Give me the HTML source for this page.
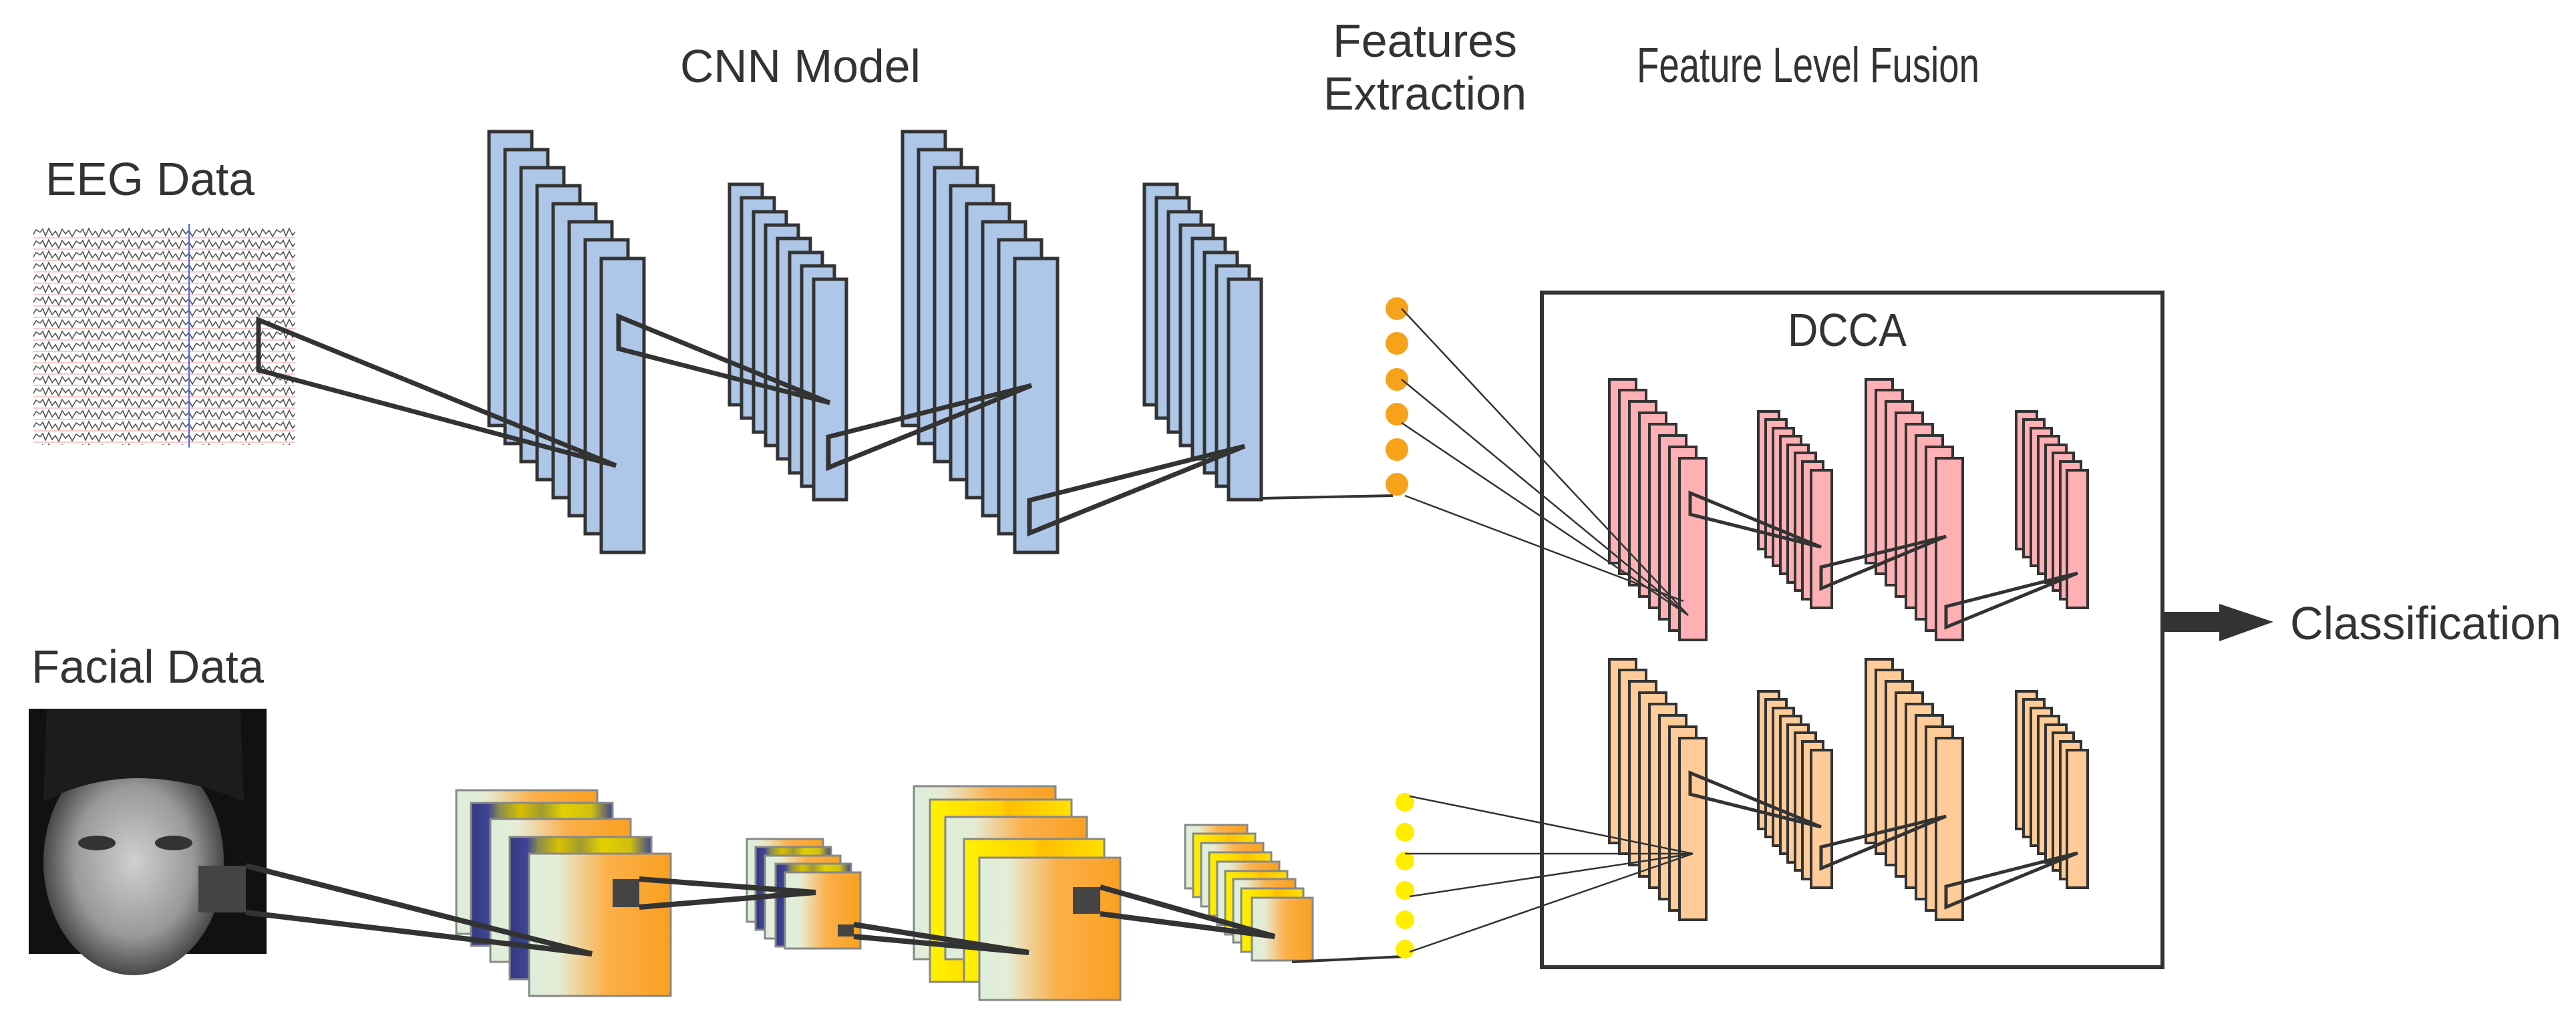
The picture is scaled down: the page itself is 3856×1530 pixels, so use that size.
<!DOCTYPE html>
<html><head><meta charset="utf-8"><style>html,body{margin:0;padding:0;background:#fff}svg{display:block}</style></head>
<body>
<svg width="3856" height="1530" viewBox="0 0 3856 1530" xmlns="http://www.w3.org/2000/svg" font-family="Liberation Sans, sans-serif">
<defs>
<linearGradient id="og" x1="0" x2="1" y1="0" y2="0"><stop offset="0" stop-color="#dcefdc"/><stop offset="0.2" stop-color="#e6ecd6"/><stop offset="0.55" stop-color="#fbb04a"/><stop offset="1" stop-color="#f9a020"/></linearGradient>
<linearGradient id="bg" x1="0" x2="1"><stop offset="0" stop-color="#34387f"/><stop offset="0.12" stop-color="#3d4595"/><stop offset="0.2" stop-color="#8a8a50"/><stop offset="0.35" stop-color="#d6c000"/><stop offset="0.5" stop-color="#a09a30"/><stop offset="0.65" stop-color="#e2d000"/><stop offset="0.85" stop-color="#d0c010"/><stop offset="1" stop-color="#3d4595"/></linearGradient>
<linearGradient id="yg" x1="0" x2="1"><stop offset="0" stop-color="#fff200"/><stop offset="0.5" stop-color="#ffd000"/><stop offset="0.55" stop-color="#ffbf00"/><stop offset="1" stop-color="#ffe000"/></linearGradient>
<pattern id="eeg" width="60" height="17" patternUnits="userSpaceOnUse"><path d="M0 8 L4 3 L8 13 L13 2 L18 12 L23 6 L28 15 L33 3 L38 10 L43 5 L48 14 L54 4 L60 8" fill="none" stroke="#333" stroke-width="1.6"/><line x1="0" y1="16" x2="60" y2="16" stroke="#f4b0b0" stroke-width="1.5"/></pattern>
<radialGradient id="face" cx="0.5" cy="0.5" r="0.55"><stop offset="0" stop-color="#d0d0d0"/><stop offset="0.6" stop-color="#999"/><stop offset="1" stop-color="#303030"/></radialGradient>
</defs>

<g fill="#333" font-size="70">
<text x="1018" y="123" textLength="360" lengthAdjust="spacingAndGlyphs">CNN Model</text>
<text x="68" y="292" textLength="313" lengthAdjust="spacingAndGlyphs">EEG Data</text>
<text x="47" y="1022" textLength="348" lengthAdjust="spacingAndGlyphs">Facial Data</text>
<text x="1995" y="85" textLength="276" lengthAdjust="spacingAndGlyphs">Features</text>
<text x="1981" y="164" textLength="304" lengthAdjust="spacingAndGlyphs">Extraction</text>
<text x="2450" y="123" font-size="74" textLength="513" lengthAdjust="spacingAndGlyphs">Feature Level Fusion</text>
<text x="2676" y="518" textLength="178" lengthAdjust="spacingAndGlyphs">DCCA</text>
<text x="3428" y="957" textLength="406" lengthAdjust="spacingAndGlyphs">Classification</text>
</g>

<rect x="43" y="333" width="406" height="339" fill="#fff"/>
<rect x="50" y="340" width="392" height="326" fill="url(#eeg)" opacity="0.85"/>
<line x1="283" y1="335" x2="283" y2="670" stroke="#5060ff" stroke-width="2"/>

<rect x="43" y="1061" width="356" height="367" fill="#111"/>
<ellipse cx="200" cy="1290" rx="135" ry="170" fill="url(#face)"/>
<path d="M70 1061 L360 1061 L365 1200 Q200 1130 65 1200 Z" fill="#1c1c1c"/>
<ellipse cx="145" cy="1262" rx="28" ry="11" fill="#333"/>
<ellipse cx="260" cy="1262" rx="28" ry="11" fill="#333"/>
<rect x="297" y="1296" width="71" height="70" fill="#444"/>

<g fill="#aec7e8" stroke="#333" stroke-width="5">
<rect x="732" y="197" width="64" height="440"/><rect x="756" y="224" width="64" height="440"/><rect x="780" y="251" width="64" height="440"/><rect x="804" y="278" width="64" height="440"/><rect x="828" y="305" width="64" height="440"/><rect x="852" y="332" width="64" height="440"/><rect x="876" y="359" width="64" height="440"/><rect x="900" y="387" width="64" height="440"/>
<rect x="1092" y="276" width="49" height="330"/><rect x="1110" y="296" width="49" height="330"/><rect x="1128" y="317" width="49" height="330"/><rect x="1146" y="337" width="49" height="330"/><rect x="1164" y="357" width="49" height="330"/><rect x="1182" y="378" width="49" height="330"/><rect x="1200" y="398" width="49" height="330"/><rect x="1218" y="418" width="49" height="330"/>
<rect x="1351" y="197" width="64" height="440"/><rect x="1375" y="224" width="64" height="440"/><rect x="1399" y="251" width="64" height="440"/><rect x="1423" y="278" width="64" height="440"/><rect x="1447" y="305" width="64" height="440"/><rect x="1471" y="332" width="64" height="440"/><rect x="1495" y="359" width="64" height="440"/><rect x="1519" y="387" width="64" height="440"/>
<rect x="1713" y="276" width="49" height="330"/><rect x="1731" y="296" width="49" height="330"/><rect x="1749" y="317" width="49" height="330"/><rect x="1767" y="337" width="49" height="330"/><rect x="1785" y="357" width="49" height="330"/><rect x="1803" y="378" width="49" height="330"/><rect x="1821" y="398" width="49" height="330"/><rect x="1839" y="418" width="49" height="330"/>
</g>
<g fill="none" stroke="#333" stroke-width="7">
<path d="M922 697 L387 479 L387 554 Z"/>
<path d="M1242 603 L926 474 L926 522 Z"/>
<path d="M1544 577 L1240 654 L1240 700 Z"/>
<path d="M1863 668 L1541 749 L1541 798 Z"/>
</g>
<path d="M1888 746 L2085 742" stroke="#333" stroke-width="4" fill="none"/>

<g stroke="#888" stroke-width="3">
<rect x="683" y="1183" width="211" height="215" fill="url(#og)"/>
<rect x="705" y="1202" width="212" height="214" fill="url(#bg)"/>
<rect x="734" y="1226" width="210" height="214" fill="url(#og)"/>
<rect x="763" y="1253" width="212" height="213" fill="url(#bg)"/>
<rect x="792" y="1278" width="212" height="213" fill="url(#og)"/>
<rect x="1118" y="1256" width="114" height="124" fill="url(#og)"/>
<rect x="1131" y="1268" width="113" height="124" fill="url(#bg)"/>
<rect x="1145" y="1281" width="113" height="124" fill="url(#og)"/>
<rect x="1161" y="1293" width="113" height="124" fill="url(#bg)"/>
<rect x="1175" y="1306" width="113" height="114" fill="url(#og)"/>
<rect x="1368" y="1177" width="212" height="259" fill="url(#og)"/>
<rect x="1392" y="1197" width="212" height="273" fill="url(#yg)"/>
<rect x="1415" y="1223" width="212" height="213" fill="url(#og)"/>
<rect x="1443" y="1256" width="210" height="214" fill="url(#yg)"/>
<rect x="1466" y="1284" width="211" height="213" fill="url(#og)"/>
<rect x="1774" y="1235" width="93" height="95" fill="url(#og)"/>
<rect x="1786" y="1248" width="93" height="95" fill="url(#yg)"/>
<rect x="1798" y="1262" width="93" height="95" fill="url(#og)"/>
<rect x="1810" y="1276" width="93" height="95" fill="url(#yg)"/>
<rect x="1822" y="1290" width="93" height="95" fill="url(#og)"/>
<rect x="1834" y="1304" width="93" height="95" fill="url(#yg)"/>
<rect x="1846" y="1316" width="93" height="95" fill="url(#og)"/>
<rect x="1858" y="1330" width="93" height="95" fill="url(#yg)"/>
<rect x="1874" y="1344" width="91" height="94" fill="url(#og)"/>
</g>
<g fill="#444"><rect x="917" y="1316" width="40" height="42"/><rect x="1254" y="1384" width="24" height="18"/><rect x="1606" y="1328" width="41" height="40"/></g>
<g stroke="#333" stroke-width="8" fill="none">
<path d="M368 1296 L886 1428 L368 1366"/>
<path d="M957 1316 L1221 1336 L957 1358"/>
<path d="M1278 1384 L1540 1426 L1278 1402"/>
<path d="M1647 1328 L1908 1402 L1647 1368"/>
</g>
<path d="M1934 1440 L2100 1432" stroke="#333" stroke-width="4" fill="none"/>

<g fill="#f7a21b"><circle cx="2091" cy="462" r="17"/><circle cx="2091" cy="514" r="17"/><circle cx="2091" cy="568" r="17"/><circle cx="2091" cy="620" r="17"/><circle cx="2091" cy="673" r="17"/><circle cx="2091" cy="725" r="17"/></g>
<g fill="#ffee00"><circle cx="2103" cy="1201" r="14"/><circle cx="2103" cy="1246" r="14"/><circle cx="2103" cy="1289" r="14"/><circle cx="2103" cy="1333" r="14"/><circle cx="2103" cy="1377" r="14"/><circle cx="2103" cy="1421" r="14"/></g>

<rect x="2308" y="438" width="929" height="1010" fill="none" stroke="#333" stroke-width="6"/>

<g stroke="#333" stroke-width="4">
<g fill="#ffb0b5">
<rect x="2409" y="568" width="40" height="275"/><rect x="2424" y="584" width="40" height="275"/><rect x="2439" y="601" width="40" height="275"/><rect x="2454" y="618" width="40" height="275"/><rect x="2469" y="635" width="40" height="275"/><rect x="2484" y="652" width="40" height="275"/><rect x="2499" y="669" width="40" height="275"/><rect x="2514" y="686" width="40" height="272"/>
<rect x="2632" y="616" width="31" height="206"/><rect x="2643" y="628" width="31" height="206"/><rect x="2654" y="641" width="31" height="206"/><rect x="2665" y="653" width="31" height="206"/><rect x="2676" y="666" width="31" height="206"/><rect x="2687" y="678" width="31" height="206"/><rect x="2698" y="691" width="31" height="206"/><rect x="2711" y="704" width="31" height="206"/>
<rect x="2793" y="568" width="40" height="275"/><rect x="2808" y="584" width="40" height="275"/><rect x="2823" y="601" width="40" height="275"/><rect x="2838" y="618" width="40" height="275"/><rect x="2853" y="635" width="40" height="275"/><rect x="2868" y="652" width="40" height="275"/><rect x="2883" y="669" width="40" height="275"/><rect x="2898" y="686" width="40" height="272"/>
<rect x="3018" y="616" width="31" height="206"/><rect x="3029" y="628" width="31" height="206"/><rect x="3040" y="641" width="31" height="206"/><rect x="3051" y="653" width="31" height="206"/><rect x="3062" y="666" width="31" height="206"/><rect x="3073" y="678" width="31" height="206"/><rect x="3084" y="691" width="31" height="206"/><rect x="3094" y="704" width="31" height="206"/>
</g>
<g fill="none" stroke-width="5">
<path d="M2726 819 L2530 738 L2530 770 Z"/>
<path d="M2913 803 L2726 849 L2726 881 Z"/>
<path d="M3110 858 L2913 908 L2913 939 Z"/>
</g>
</g>
<g stroke="#333" stroke-width="4">
<g fill="#ffcc99">
<rect x="2409" y="987" width="40" height="275"/><rect x="2424" y="1003" width="40" height="275"/><rect x="2439" y="1020" width="40" height="275"/><rect x="2454" y="1037" width="40" height="275"/><rect x="2469" y="1054" width="40" height="275"/><rect x="2484" y="1071" width="40" height="275"/><rect x="2499" y="1088" width="40" height="275"/><rect x="2514" y="1105" width="40" height="272"/>
<rect x="2632" y="1035" width="31" height="206"/><rect x="2643" y="1047" width="31" height="206"/><rect x="2654" y="1060" width="31" height="206"/><rect x="2665" y="1072" width="31" height="206"/><rect x="2676" y="1085" width="31" height="206"/><rect x="2687" y="1097" width="31" height="206"/><rect x="2698" y="1110" width="31" height="206"/><rect x="2711" y="1123" width="31" height="206"/>
<rect x="2793" y="987" width="40" height="275"/><rect x="2808" y="1003" width="40" height="275"/><rect x="2823" y="1020" width="40" height="275"/><rect x="2838" y="1037" width="40" height="275"/><rect x="2853" y="1054" width="40" height="275"/><rect x="2868" y="1071" width="40" height="275"/><rect x="2883" y="1088" width="40" height="275"/><rect x="2898" y="1105" width="40" height="272"/>
<rect x="3018" y="1035" width="31" height="206"/><rect x="3029" y="1047" width="31" height="206"/><rect x="3040" y="1060" width="31" height="206"/><rect x="3051" y="1072" width="31" height="206"/><rect x="3062" y="1085" width="31" height="206"/><rect x="3073" y="1097" width="31" height="206"/><rect x="3084" y="1110" width="31" height="206"/><rect x="3094" y="1123" width="31" height="206"/>
</g>
<g fill="none" stroke-width="5">
<path d="M2726 1238 L2530 1157 L2530 1189 Z"/>
<path d="M2913 1222 L2726 1268 L2726 1300 Z"/>
<path d="M3110 1277 L2913 1327 L2913 1358 Z"/>
</g>
</g>

<g stroke="#333" stroke-width="2.5" fill="none">
<path d="M2098 462 L2527 921"/><path d="M2098 568 L2527 921"/><path d="M2098 633 L2527 921"/><path d="M2103 742 L2520 900"/>
<path d="M2110 1192 L2534 1278"/><path d="M2103 1278 L2534 1278"/><path d="M2110 1342 L2534 1278"/><path d="M2110 1425 L2534 1278"/>
</g>

<rect x="3237" y="916" width="86" height="30" fill="#333"/>
<polygon points="3322,904 3403,931 3322,960" fill="#333"/>
</svg>
</body></html>
